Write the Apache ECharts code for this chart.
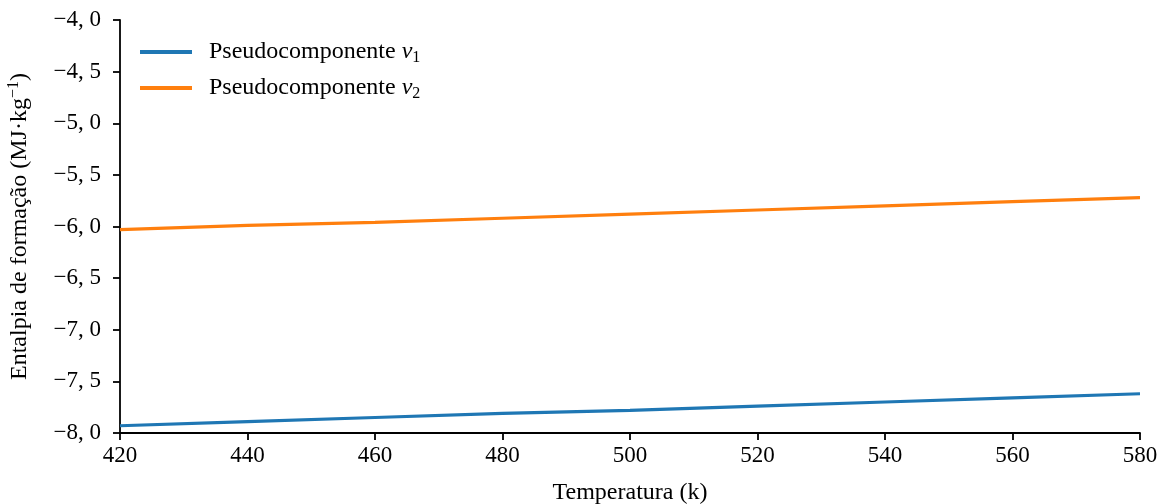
<!DOCTYPE html>
<html>
<head>
<meta charset="utf-8">
<script src="https://cdn.jsdelivr.net/npm/echarts@6/dist/echarts.min.js"></script>
<style>
  html, body { margin: 0; padding: 0; background: #fff; }
  #chart { width: 1160px; height: 504px; }
</style>
</head>
<body>
<div id="chart"></div>
<script>
// dados
const temperaturas = [420, 440, 460, 480, 500, 520, 540, 560, 580]
const entalpiaV1 = [-7.93, -7.89, -7.85, -7.81, -7.78, -7.74, -7.70, -7.66, -7.62]
const entalpiaV2 = [-6.03, -5.99, -5.96, -5.92, -5.88, -5.84, -5.80, -5.76, -5.72]
const nomes = ['Pseudocomponente v1', 'Pseudocomponente v2']

const fonte = 'Liberation Serif'
const preto = '#000'

const fmtY = v => (v < 0 ? '\u2212' : '') + Math.abs(v).toFixed(1).replace('.', ', ')

const myChart = echarts.init(document.getElementById('chart'))

const option = {
  animation: false,
  textStyle: { fontFamily: fonte },
  grid: { left: 120, right: 20, top: 20, bottom: 71, outerBoundsMode: 'none', containLabel: false },
  legend: {
    left: 140,
    top: 40,
    padding: 0,
    orient: 'vertical',
    itemWidth: 52,
    itemHeight: 4,
    itemGap: 10,
    icon: 'rect',
    textStyle: {
      fontFamily: fonte,
      fontSize: 24,
      color: preto,
      padding: [0, 0, 0, 12],
      rich: {
        i: { fontFamily: fonte, fontStyle: 'italic', fontSize: 24, color: preto },
        s: { fontFamily: fonte, fontSize: 16, color: preto, verticalAlign: 'bottom', padding: [12, 0, 0, 0] }
      }
    },
    formatter: name => {
      const n = name.slice(-1)
      return 'Pseudocomponente {i|v}{s|' + n + '}'
    },
    data: nomes
  },
  xAxis: {
    type: 'value',
    min: 420,
    max: 580,
    interval: 20,
    name: 'Temperatura (k)',
    nameLocation: 'middle',
    nameGap: 48,
    nameTextStyle: { fontFamily: fonte, fontSize: 24, color: preto },
    axisLine: { onZero: false, lineStyle: { color: preto, width: 1.8 } },
    axisTick: { show: true, length: 7, lineStyle: { color: preto, width: 1.8 } },
    axisLabel: { fontFamily: fonte, fontSize: 23, color: preto, margin: 11 },
    splitLine: { show: false }
  },
  yAxis: {
    type: 'value',
    min: -8,
    max: -4,
    interval: 0.5,
    name: 'Entalpia de formação (MJ·kg{sup|\u22121})',
    nameLocation: 'middle',
    nameGap: 86,
    nameRotate: 90,
    nameTextStyle: {
      fontFamily: fonte, fontSize: 24, color: preto,
      rich: {
        sup: { fontFamily: fonte, fontSize: 16, color: preto, verticalAlign: 'top', padding: [0, 0, 12, 0] }
      }
    },
    axisLine: { show: true, lineStyle: { color: preto, width: 1.8 } },
    axisTick: { show: true, length: 7, lineStyle: { color: preto, width: 1.8 } },
    axisLabel: { fontFamily: fonte, fontSize: 23, color: preto, margin: 19, formatter: fmtY },
    splitLine: { show: false }
  },
  series: [
    {
      name: nomes[0],
      type: 'line',
      data: temperaturas.map((t, i) => [t, entalpiaV1[i]]),
      showSymbol: false,
      lineStyle: { color: '#1f77b4', width: 3.2 },
      itemStyle: { color: '#1f77b4' }
    },
    {
      name: nomes[1],
      type: 'line',
      data: temperaturas.map((t, i) => [t, entalpiaV2[i]]),
      showSymbol: false,
      lineStyle: { color: '#ff7f0e', width: 3.2 },
      itemStyle: { color: '#ff7f0e' }
    }
  ]
}

myChart.setOption(option)
</script>
</body>
</html>
